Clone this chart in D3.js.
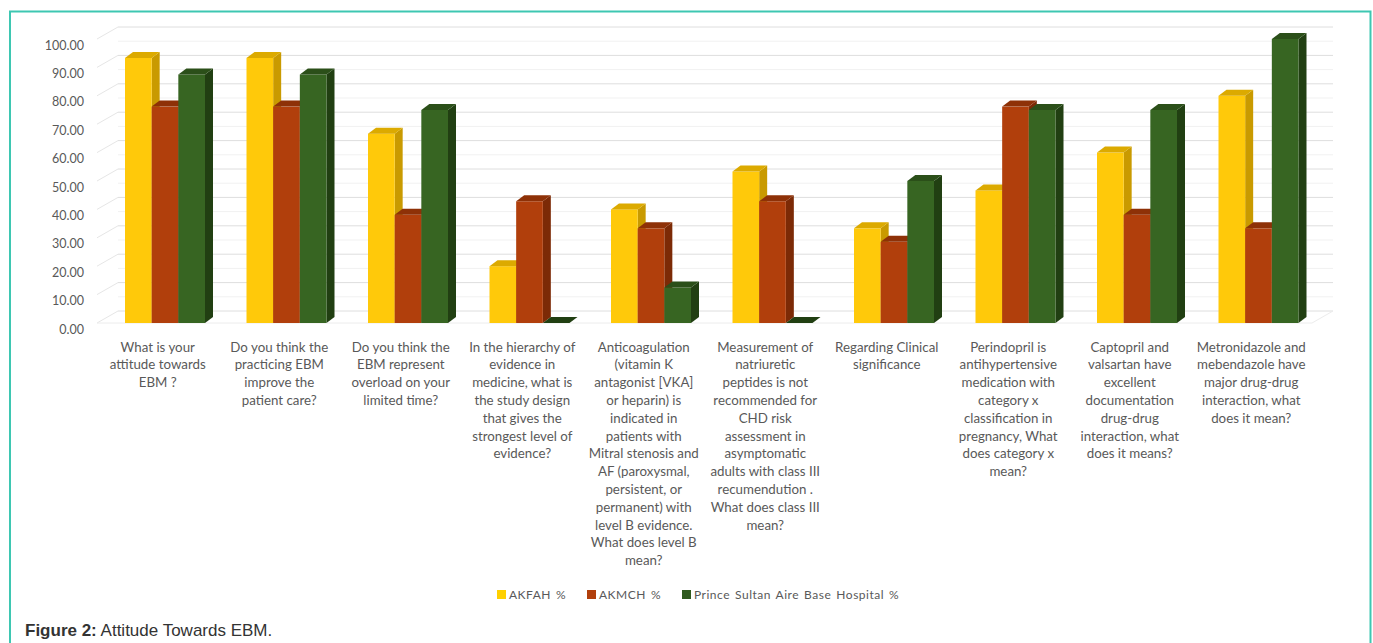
<!DOCTYPE html>
<html>
<head>
<meta charset="utf-8">
<script src="https://cdn.jsdelivr.net/npm/d3@7"></script>
<style>
  html, body { margin: 0; padding: 0; background: #ffffff; }
  svg { display: block; }
</style>
</head>
<body>
<svg id="chart" width="1373" height="643"></svg>
<script>
// ---------- data ----------
const categories = [
  "What is your\nattitude towards\nEBM ?",
  "Do you think the\npracticing EBM\nimprove the\npatient care?",
  "Do you think the\nEBM represent\noverload on your\nlimited time?",
  "In the hierarchy of\nevidence in\nmedicine, what is\nthe study design\nthat gives the\nstrongest level of\nevidence?",
  "Anticoagulation\n(vitamin K\nantagonist [VKA]\nor heparin) is\nindicated in\npatients with\nMitral stenosis and\nAF (paroxysmal,\npersistent, or\npermanent) with\nlevel B evidence.\nWhat does level B\nmean?",
  "Measurement of\nnatriuretic\npeptides is not\nrecommended for\nCHD risk\nassessment in\nasymptomatic\nadults with class III\nrecumendution .\nWhat does class III\nmean?",
  "Regarding Clinical\nsignificance",
  "Perindopril is\nantihypertensive\nmedication with\ncategory x\nclassification in\npregnancy, What\ndoes category x\nmean?",
  "Captopril and\nvalsartan have\nexcellent\ndocumentation\ndrug-drug\ninteraction, what\ndoes it means?",
  "Metronidazole and\nmebendazole have\nmajor drug-drug\ninteraction, what\ndoes it mean?"
];
const seriesNames = ["AKFAH %", "AKMCH %", "Prince Sultan Aire Base Hospital %"];
const akfah   = [93.33, 93.33, 66.67, 20.00, 40.00, 53.33, 33.33, 46.67, 60.00, 80.00];
const akmch   = [76.19, 76.19, 38.10, 42.86, 33.33, 42.86, 28.57, 76.19, 38.10, 33.33];
const psabh   = [87.50, 87.50, 75.00, 0.00, 12.50, 0.00, 50.00, 75.00, 75.00, 100.00];
const yTicks  = [0, 10, 20, 30, 40, 50, 60, 70, 80, 90, 100];
const captionBold = "Figure 2:";
const captionText = " Attitude Towards EBM.";

// ---------- styles ----------
const fills = [
  { front: "#ffc90a", side: "#c99a00", top: "#dcaa00" },
  { front: "#b13f0c", side: "#7c2a06", top: "#8e3107" },
  { front: "#376522", side: "#213f12", top: "#2b4f19" }
];
const legendColors = ["#ffd000", "#b13f0c", "#2f5a1e"];
const textColor = "#595959";
const labelFont = "Lato, 'Open Sans', sans-serif";

const svg = d3.select("#chart");

// frame
svg.append("path")
  .attr("d", "M10,643 L10,11.5 L1370.5,11.5 L1370.5,643")
  .attr("fill", "none").attr("stroke", "#3ec7b2").attr("stroke-width", 2);

// ---------- scales ----------
const x0 = 97, x1 = 1312;
const x = d3.scaleBand().domain(d3.range(categories.length)).range([x0, x1]).padding(0);
const y = d3.scaleLinear().domain([0, 100]).range([323, 39]);
const wallDx = 21, wallDy = -12;     // depth of the 3D wall
const barDx = 8, barDy = -6;         // depth of bars
const groupOffset = 28, groupWidth = 80;
const xs = d3.scaleBand().domain(d3.range(seriesNames.length)).range([0, groupWidth]).padding(0);

// ---------- walls & gridlines ----------
const g = svg.append("g");
d3.range(5, 100, 10).forEach(v => {
  g.append("line")
    .attr("x1", x0 + wallDx).attr("x2", x1 + wallDx)
    .attr("y1", y(v) + wallDy).attr("y2", y(v) + wallDy)
    .attr("stroke", "#f1f1f1").attr("stroke-width", 1);
});
yTicks.forEach(v => {
  g.append("line")
    .attr("x1", x0 + wallDx).attr("x2", x1 + wallDx)
    .attr("y1", y(v) + wallDy).attr("y2", y(v) + wallDy)
    .attr("stroke", "#dedede").attr("stroke-width", 1);
  g.append("line")
    .attr("x1", x0).attr("x2", x0 + wallDx)
    .attr("y1", y(v)).attr("y2", y(v) + wallDy)
    .attr("stroke", "#e6e6e6").attr("stroke-width", 1);
});
g.append("line")
  .attr("x1", x0).attr("x2", x1)
  .attr("y1", y(0)).attr("y2", y(0))
  .attr("stroke", "#ececec").attr("stroke-width", 1);
g.append("line")
  .attr("x1", x1).attr("x2", x1 + wallDx)
  .attr("y1", y(0)).attr("y2", y(0) + wallDy)
  .attr("stroke", "#ececec").attr("stroke-width", 1);

// ---------- y-axis labels ----------
svg.append("g").selectAll("text").data(yTicks).join("text")
  .attr("x", 84)
  .attr("y", d => y(d) + 6)
  .attr("text-anchor", "end")
  .attr("dominant-baseline", "central")
  .attr("font-family", labelFont)
  .attr("font-size", 12.5)
  .attr("fill", textColor)
  .text(d => d3.format(".2f")(d));

// ---------- bars ----------
const seriesValues = [akfah, akmch, psabh];
const barsG = svg.append("g");
categories.forEach((c, i) => {
  seriesValues.forEach((vals, s) => {
    const v = vals[i];
    const bx = x(i) + groupOffset + xs(s);
    const bw = xs.bandwidth();
    const yt = y(v), yb = y(0);
    const f = fills[s];
    barsG.append("polygon")
      .attr("points", [[bx + bw, yt], [bx + bw + barDx, yt + barDy], [bx + bw + barDx, yb + barDy], [bx + bw, yb]].map(p => p.join(",")).join(" "))
      .attr("fill", f.side);
    barsG.append("rect")
      .attr("x", bx).attr("y", yt)
      .attr("width", bw).attr("height", Math.max(0, yb - yt))
      .attr("fill", f.front);
    barsG.append("polygon")
      .attr("points", [[bx, yt], [bx + barDx, yt + barDy], [bx + bw + barDx, yt + barDy], [bx + bw, yt]].map(p => p.join(",")).join(" "))
      .attr("fill", v === 0 ? f.side : f.top);
  });
});

// ---------- category labels ----------
const lineH = 17.8;
const labG = svg.append("g")
  .attr("font-family", labelFont)
  .attr("font-size", 13.3)
  .attr("fill", textColor)
  .attr("text-anchor", "middle");
categories.forEach((c, i) => {
  const cx = x(i) + x.bandwidth() / 2;
  const t = labG.append("text").attr("x", cx).attr("y", 351.5);
  c.split("\n").forEach((line, k) => {
    t.append("tspan")
      .attr("x", cx)
      .attr("dy", k === 0 ? 0 : lineH)
      .text(line);
  });
});

// ---------- legend ----------
const legG = svg.append("g")
  .attr("font-family", labelFont)
  .attr("font-size", 12)
  .attr("letter-spacing", 0.5)
  .attr("word-spacing", 1.5)
  .attr("fill", textColor);
const legX = [497, 587, 682];
seriesNames.forEach((n, s) => {
  legG.append("rect")
    .attr("x", legX[s]).attr("y", 590)
    .attr("width", 9).attr("height", 9)
    .attr("fill", legendColors[s]);
  legG.append("text")
    .attr("x", legX[s] + 12).attr("y", 594.5)
    .attr("dominant-baseline", "central")
    .text(n);
});

// ---------- caption ----------
const cap = svg.append("text")
  .attr("x", 25).attr("y", 636)
  .attr("font-family", "'Liberation Sans', Arial, sans-serif")
  .attr("font-size", 17)
  .attr("fill", "#333333");
cap.append("tspan").attr("font-weight", "bold").text(captionBold);
cap.append("tspan").text(captionText);
</script>
</body>
</html>
